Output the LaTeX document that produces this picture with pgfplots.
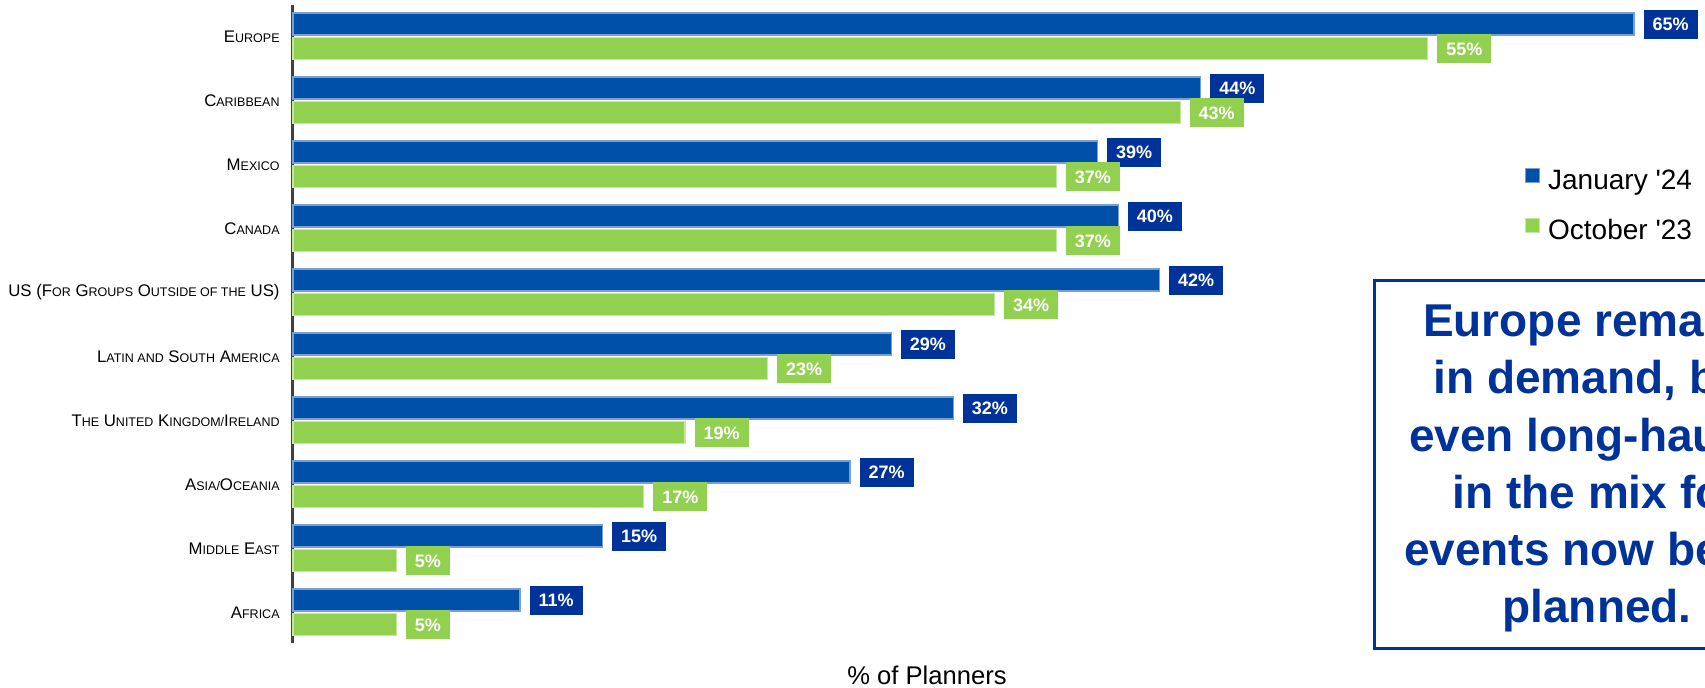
\documentclass[border=0pt]{standalone}
\usepackage{pgfplots}
\pgfplotsset{compat=1.18}
\usepackage{fontspec}
\setmainfont{Liberation Sans}
\definecolor{barblue}{RGB}{0,80,168}
\definecolor{barblueedge}{RGB}{120,160,215}
\definecolor{labelblue}{RGB}{0,51,153}
\definecolor{bargreen}{RGB}{146,208,80}
\definecolor{bargreenedge}{RGB}{195,232,160}
\definecolor{boxblue}{RGB}{0,51,153}
\definecolor{axisgray}{RGB}{64,64,64}
\newcommand\s[1]{{\fontsize{6.25}{7}\selectfont #1}}
\begin{document}
\begin{tikzpicture}
\path[use as bounding box] (0,0) rectangle (852.5pt,-343.5pt);
\clip (0,0) rectangle (852.5pt,-343.5pt);
\begin{axis}[
  at={(146.5pt,-321.5pt)}, anchor=south west,
  scale only axis, width=670.5pt, height=319pt,
  xmin=0, xmax=65, ymin=-0.477, ymax=9.492,
  xbar, bar width=11pt,
  axis x line=none, axis y line=left,
  y axis line style={draw=axisgray, line width=1.5pt, -},
  ytick={0,...,9},
  yticklabels={{A\s{FRICA}},{M\s{IDDLE} E\s{AST}},{A\s{SIA/}O\s{CEANIA}},{T\s{HE} U\s{NITED} K\s{INGDOM/}I\s{RELAND}},{L\s{ATIN AND} S\s{OUTH} A\s{MERICA}},{US (F\s{OR} G\s{ROUPS} O\s{UTSIDE OF THE} US)},{C\s{ANADA}},{M\s{EXICO}},{C\s{ARIBBEAN}},{E\s{UROPE}}},
  major tick length=0pt,
  yticklabel style={font=\fontsize{8.4}{9}\selectfont, inner sep=0pt, xshift=-6.5pt},
  clip=false,
  point meta=x,
  nodes near coords={\pgfmathprintnumber{\pgfplotspointmeta}\%},
  /pgf/number format/assume math mode=true,
  every node near coord/.append style={anchor=west, xshift=4.5pt, text=white,
     font=\bfseries\fontsize{9}{10}\selectfont, inner xsep=4.5pt, inner ysep=4pt,
     text height=6.5pt, text depth=0pt},
  legend style={at={(0.9187,0.7445)}, anchor=north west, draw=none, fill=none,
     inner sep=0pt, font=\fontsize{14}{16}\selectfont, row sep=11pt, column sep=4pt,
     nodes={inner sep=0pt, text height=10pt, text depth=3pt}},
  legend cell align=left,
  legend image code/.code={\draw[#1, line width=0.4pt] (0pt,0pt) rectangle (7pt,7pt);},
]
\addplot[fill=barblue, draw=barblueedge, line width=0.6pt, bar shift=6.2pt,
  every node near coord/.append style={fill=labelblue}]
  coordinates {(11,0) (15,1) (27,2) (32,3) (29,4) (42,5) (40,6) (39,7) (44,8) (65,9)};
\addplot[fill=bargreen, draw=bargreenedge, line width=0.6pt, bar shift=-6.2pt,
  every node near coord/.append style={fill=bargreen}]
  coordinates {(5,0) (5,1) (17,2) (19,3) (23,4) (34,5) (37,6) (37,7) (43,8) (55,9)};
\legend{January \textquotesingle24, October \textquotesingle23}
\end{axis}
\draw[boxblue, line width=1.5pt] (687pt,-140pt) rectangle (910pt,-324pt);
\node[anchor=north, align=center, text=boxblue, font=\bfseries\fontsize{23}{28.6}\selectfont, inner sep=0pt]
  at (798.5pt,-151.5pt) {Europe remains\\in demand, but\\even long-haul is\\in the mix for\\events now being\\planned.};
\node[anchor=base] at (463.5pt,-342.3pt) {\fontsize{12.8}{14}\selectfont\%\ of Planners};
\end{tikzpicture}
\end{document}
